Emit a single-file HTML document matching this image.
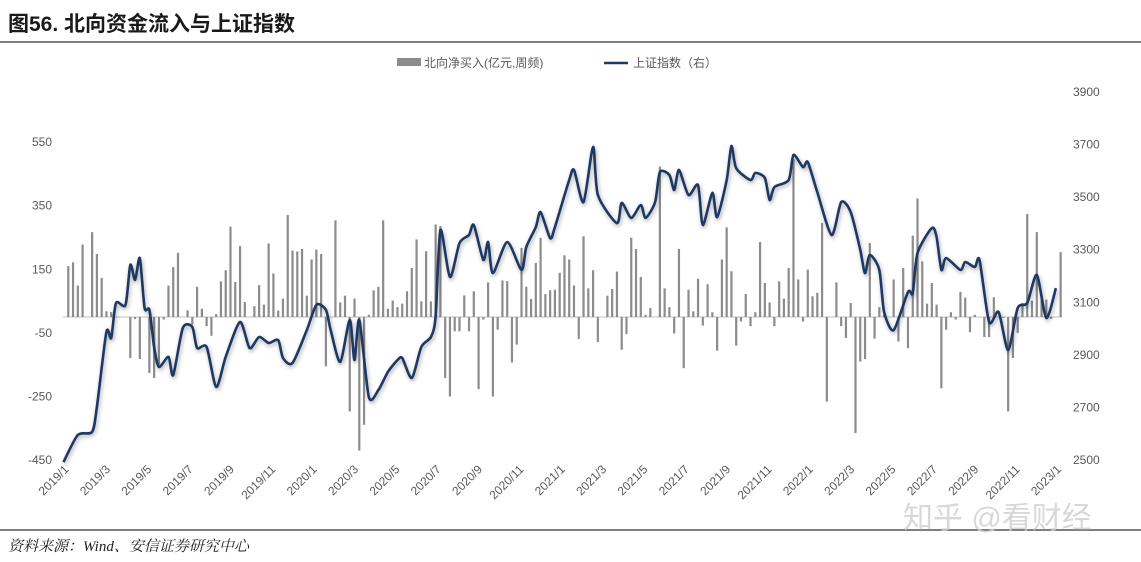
<!DOCTYPE html>
<html><head><meta charset="utf-8">
<style>
body{margin:0;background:#fff;width:1141px;height:562px;overflow:hidden;font-family:"Liberation Sans","Noto Sans CJK SC",sans-serif;}
svg{position:absolute;left:0;top:0}
</style></head>
<body>
<svg id="chart" width="1141" height="562" viewBox="0 0 1141 562">
  <defs>
    <filter id="sh" x="-5%" y="-5%" width="110%" height="110%">
      <feGaussianBlur in="SourceAlpha" stdDeviation="2"/>
      <feOffset dx="1" dy="2"/>
      <feComponentTransfer><feFuncA type="linear" slope="0.35"/></feComponentTransfer>
      <feMerge><feMergeNode/><feMergeNode in="SourceGraphic"/></feMerge>
    </filter>
  </defs>
  <text x="8" y="31" font-size="21" font-weight="bold" fill="#1a1a1a" font-family="'Liberation Sans','Noto Sans CJK SC',sans-serif">图56. 北向资金流入与上证指数</text>
  <line x1="0" y1="42" x2="1141" y2="42" stroke="#333" stroke-width="1.2"/>
  <line x1="0" y1="530" x2="1141" y2="530" stroke="#333" stroke-width="1.2"/>
  <text x="8" y="551" font-size="15" font-style="italic" fill="#222" font-family="'Liberation Serif','Noto Serif CJK SC',serif">资料来源：Wind、安信证券研究中心</text>
  <text x="903" y="528" font-size="30" fill="#cfcfcf" opacity="0.8">知乎 @看财经</text>
  <g font-size="12" fill="#595959">
    <rect x="397" y="58" width="24" height="8" fill="#8c8c8c"/>
    <text x="424" y="67">北向净买入(亿元,周频)</text>
    <line x1="604" y1="63" x2="628" y2="63" stroke="#1f3864" stroke-width="2.5"/>
    <text x="633" y="67">上证指数（右）</text>
  </g>
  <g id="axes"></g>
  <g id="bars"></g>
  <g id="line"></g>
</svg>
<script>
const leftTicks=[550,350,150,-50,-250,-450];
const rightTicks=[3900,3700,3500,3300,3100,2900,2700,2500];
const xLabels=["2019/1","2019/3","2019/5","2019/7","2019/9","2019/11","2020/1","2020/3","2020/5","2020/7","2020/9","2020/11","2021/1","2021/3","2021/5","2021/7","2021/9","2021/11","2022/1","2022/3","2022/5","2022/7","2022/9","2022/11","2023/1"];
const barWeeks=[1,2,3,4,6,7,8,9,10,14,15,16,18,19,20,21,22,23,24,26,27,28,29,30,31,32,33,34,35,36,37,38,40,41,42,43,44,45,46,47,48,49,50,51,52,53,54,55,57,58,59,60,61,62,63,64,65,66,67,68,69,70,71,72,73,74,75,76,77,78,79,80,81,82,83,84,85,86,87,88,89,90,91,92,93,94,95,96,97,98,99,100,101,102,103,104,105,106,107,108,109,110,111,112,114,115,116,117,118,119,120,121,122,123,125,126,127,128,129,130,131,132,133,134,135,136,137,138,139,140,141,142,143,144,145,146,147,148,149,150,151,152,153,154,155,156,157,158,159,160,162,163,164,165,166,167,168,169,170,171,172,174,175,176,177,178,179,180,181,182,183,184,185,186,187,188,189,190,191,193,194,195,197,198,199,200,201,202,203,204,205,206,207,209];
const barValues=[160,172,99,228,267,198,123,18,15,-129,-6,-132,-176,-192,-150,-8,99,157,202,21,-24,95,26,-29,-59,9,112,147,284,110,223,47,34,100,39,231,137,20,58,321,209,206,214,67,181,212,198,-155,304,46,67,-297,58,-420,-339,7,84,95,304,26,52,31,42,81,154,244,49,207,49,291,286,-192,-250,-45,-45,68,-45,81,-227,-8,109,-250,-40,115,113,-143,-87,217,95,57,170,249,72,84,86,139,194,181,99,-69,254,90,147,-79,67,88,143,-103,-54,249,214,126,7,28,473,90,31,-52,214,-161,86,18,120,-27,103,15,-106,181,282,144,-90,-14,72,-29,15,236,107,46,-29,112,58,154,496,118,-14,149,65,76,296,-266,109,-29,-66,44,-365,-140,-132,233,-68,31,7,118,-77,154,-98,256,373,175,42,107,39,-224,-40,15,-8,79,61,-48,7,-63,-63,62,-3,-297,-129,-50,44,324,51,267,67,55,-6,204];
const lineWeeks=[0,3,6,7,9,10,11,13,14,15,16,17,18,19,20,22,23,25,27,28,30,32,34,37,39,41,43,45,46,48,51,53,55,56,58,60,61,62,64,66,68,70,71,73,75,77,78,79,81,83,85,86,88,89,90,93,96,97,99,100,102,103,106,107,109,111,112,116,117,119,121,122,124,125,127,128,129,131,133,134,136,137,139,140,141,144,145,147,148,149,152,153,155,156,158,161,163,165,167,168,169,171,172,174,177,178,179,182,183,184,185,188,189,191,192,194,196,198,200,202,204,206,208];
const lineValues=[2492,2595,2607,2702,2987,2964,3097,3090,3242,3185,3268,3078,3071,2930,2854,2892,2823,3002,3006,2926,2930,2778,2892,3025,2926,2968,2945,2956,2888,2869,2994,3090,3071,2994,2873,3033,2880,3033,2740,2766,2835,2880,2888,2812,2930,2968,3044,3375,3196,3325,3356,3394,3261,3329,3211,3329,3223,3310,3386,3443,3344,3386,3565,3603,3481,3691,3508,3401,3478,3421,3470,3421,3481,3595,3584,3527,3603,3508,3546,3394,3516,3424,3565,3694,3610,3565,3592,3573,3489,3538,3565,3660,3614,3633,3519,3356,3481,3443,3299,3211,3280,3223,3063,2994,3139,3135,3287,3382,3348,3223,3268,3223,3253,3234,3261,3025,3063,2918,3078,3097,3204,3040,3154];

const NS='http://www.w3.org/2000/svg';
function xW(w){return 63.5+w*4.771;}
function yL(v){return 317-v*0.318;}
function yR(v){return 460-(v-2500)*0.2629;}
function mk(tag,attrs,parent){const e=document.createElementNS(NS,tag);for(const k in attrs)e.setAttribute(k,attrs[k]);parent.appendChild(e);return e;}
const axes=document.getElementById('axes');
leftTicks.forEach(v=>{
  const t=mk('text',{x:52,y:yL(v)+4,'text-anchor':'end','font-size':12,fill:'#595959'},axes);
  
  
  t.textContent=v;
});
rightTicks.forEach(v=>{
  const t=mk('text',{x:1073,y:yR(v)+4,'font-size':12,fill:'#595959'},axes);
  
  
  t.textContent=v;
});
const base=mk('line',{x1:63,y1:yL(0),x2:1062,y2:yL(0),stroke:'#bfbfbf','stroke-width':1},axes);


xLabels.forEach((s,i)=>{
  const x=xW(0)+i*(xW(208)-xW(0))/24+2;
  const t=mk('text',{x:0,y:0,'text-anchor':'end','font-size':12,fill:'#595959',transform:`translate(${x+4},${470}) rotate(-45)`},axes);
  
  
  t.textContent=s;
});
const bars=document.getElementById('bars');
barWeeks.forEach((w,i)=>{
  const v=barValues[i];const y0=yL(0),y1=yL(v);
  const r=mk('rect',{x:xW(w)-1.1,y:Math.min(y0,y1),width:2.2,height:Math.max(0.5,Math.abs(y1-y0)),fill:'#8c8c8c'},bars);
  
  
});
const lg=document.getElementById('line');
const pts=lineWeeks.map((w,i)=>[xW(w),yR(lineValues[i])]);
let d='M'+pts[0][0].toFixed(1)+','+pts[0][1].toFixed(1);
const k=8;
for(let i=0;i<pts.length-1;i++){
  const p0=pts[i-1]||pts[i],p1=pts[i],p2=pts[i+1],p3=pts[i+2]||p2;
  const c1=[p1[0]+(p2[0]-p0[0])/k,p1[1]+(p2[1]-p0[1])/k],c2=[p2[0]-(p3[0]-p1[0])/k,p2[1]-(p3[1]-p1[1])/k];
  d+=` C${c1[0].toFixed(1)},${c1[1].toFixed(1)} ${c2[0].toFixed(1)},${c2[1].toFixed(1)} ${p2[0].toFixed(1)},${p2[1].toFixed(1)}`;
}
const path=mk('path',{d:d,fill:'none',stroke:'#1f3864','stroke-width':2.6,'stroke-linejoin':'round',filter:'url(#sh)'},lg);


</script>
</body></html>
